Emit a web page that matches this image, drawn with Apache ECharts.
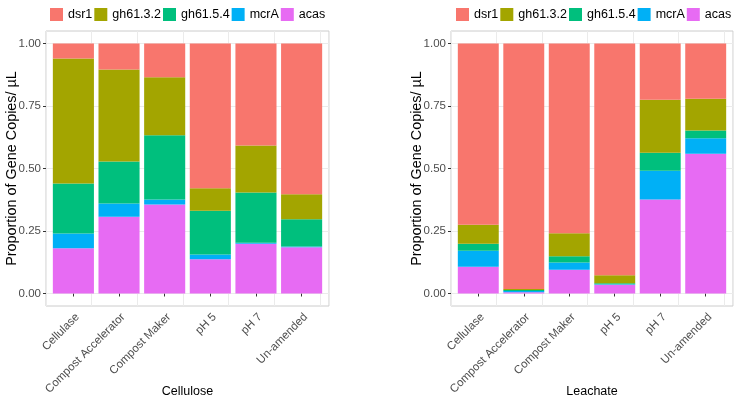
<!DOCTYPE html>
<html><head><meta charset="utf-8">
<script src="https://cdn.jsdelivr.net/npm/echarts@6/dist/echarts.min.js"></script>
<style>html,body{margin:0;padding:0;background:#fff}#c{width:740px;height:401px}</style>
</head><body><div id="c"></div>
<script>
const categories = ["Cellulase","Compost Accelerator","Compost Maker","pH 5","pH 7","Un-amended"];
const genes = ["dsr1","gh61.3.2","gh61.5.4","mcrA","acas"];
const colors = {"dsr1":"#F8766D","gh61.3.2":"#A3A500","gh61.5.4":"#00BF7D","mcrA":"#00B0F6","acas":"#E76BF3"};
const yTicks = [0,0.25,0.5,0.75,1];

// Cellulose panel
const cellAcas   = [0.181,0.307,0.356,0.137,0.199,0.185];
const cellMcrA   = [0.059,0.053,0.020,0.019,0.004,0.003];
const cellGh654  = [0.200,0.168,0.257,0.175,0.201,0.109];
const cellGh632  = [0.500,0.368,0.232,0.090,0.188,0.100];
const cellDsr1   = [0.060,0.104,0.135,0.579,0.408,0.603];

// Leachate panel
const leachAcas  = [0.107,0.005,0.095,0.035,0.376,0.559];
const leachMcrA  = [0.064,0.005,0.029,0.002,0.115,0.062];
const leachGh654 = [0.028,0.004,0.025,0.004,0.072,0.031];
const leachGh632 = [0.076,0.004,0.092,0.032,0.212,0.127];
const leachDsr1  = [0.725,0.982,0.759,0.927,0.225,0.221];

const panels = [
  {name:"Cellulose", data:{"acas":cellAcas,"mcrA":cellMcrA,"gh61.5.4":cellGh654,"gh61.3.2":cellGh632,"dsr1":cellDsr1}},
  {name:"Leachate", data:{"acas":leachAcas,"mcrA":leachMcrA,"gh61.5.4":leachGh654,"gh61.3.2":leachGh632,"dsr1":leachDsr1}}
];

const FONT = "Liberation Sans";
const panelBoxes = [{left:46, width:283}, {left:451, width:282}];
const TOP = 31, H = 275;
const grids = [], xAxes = [], yAxes = [], series = [], legends = [];
const stackOrder = ["acas","mcrA","gh61.5.4","gh61.3.2","dsr1"];
const yBase = {type:"value", min:-0.05, max:1.05, interval:0.25};

panels.forEach((p,i)=>{
  const b = panelBoxes[i];
  const unit = b.width / 6.2;
  const og = grids.length;
  grids.push({left:b.left, top:TOP, width:b.width, height:H, show:true, borderColor:"#cccccc", borderWidth:1,
    containLabel:false, outerBoundsMode:"none"});
  grids.push({left:b.left + unit*0.1, top:TOP, width:unit*6, height:H, show:false,
    containLabel:false, outerBoundsMode:"none"});
  xAxes.push({
    gridIndex:og, type:"value", min:0.4, max:6.6, interval:1,
    axisLine:{show:false}, axisTick:{show:false}, axisLabel:{show:false},
    splitLine:{show:true, lineStyle:{color:"#ebebeb", width:1}}
  });
  yAxes.push(Object.assign({}, yBase, {
    gridIndex:og,
    name:"Proportion of Gene Copies/ µL", nameLocation:"middle", nameGap:27, nameMoveOverlap:false,
    nameTextStyle:{fontFamily:FONT, fontSize:14.4, color:"#000"},
    axisLine:{show:false},
    axisTick:{show:true, length:3, lineStyle:{color:"#333"}, customValues:yTicks},
    axisLabel:{margin:5, fontFamily:FONT, fontSize:11.5, color:"#4d4d4d", customValues:yTicks,
      formatter:v=>v.toFixed(2)},
    splitLine:{show:true, lineStyle:{color:"#ebebeb", width:1}}
  }));
  const ix = xAxes.length;
  xAxes.push({
    gridIndex:og+1, type:"category", data:categories, boundaryGap:true,
    name:p.name, nameLocation:"middle", nameGap:79, nameMoveOverlap:false,
    nameTextStyle:{fontFamily:FONT, fontSize:12.5, color:"#000"},
    axisLine:{show:false},
    axisTick:{show:true, alignWithLabel:true, length:3, lineStyle:{color:"#333"}},
    axisLabel:{rotate:45, margin:5, interval:0, fontFamily:FONT, fontSize:11.5, color:"#4d4d4d", verticalAlign:"top"},
    splitLine:{show:false}
  });
  const iy = yAxes.length;
  yAxes.push(Object.assign({}, yBase, {
    gridIndex:og+1, show:false, splitLine:{show:false}
  }));
  stackOrder.forEach(g=>{
    series.push({
      type:"bar", name:g, xAxisIndex:ix, yAxisIndex:iy, stack:"s"+i,
      barWidth:"90%", itemStyle:{color:colors[g]},
      data:p.data[g],
      emphasis:{disabled:true}
    });
  });
  legends.push({
    data:genes, left: i===0 ? 50 : 456, top:8, width:300, padding:0, orient:"horizontal",
    icon:"rect", itemWidth:13, itemHeight:13, itemGap:2,
    textStyle:{fontFamily:FONT, fontSize:12.5, color:"#000"},
    selectedMode:false
  });
});

const chart = echarts.init(document.getElementById("c"), null, {renderer:"canvas"});
chart.setOption({
  animation:false,
  legend:legends,
  grid:grids, xAxis:xAxes, yAxis:yAxes, series:series
});
</script></body></html>
